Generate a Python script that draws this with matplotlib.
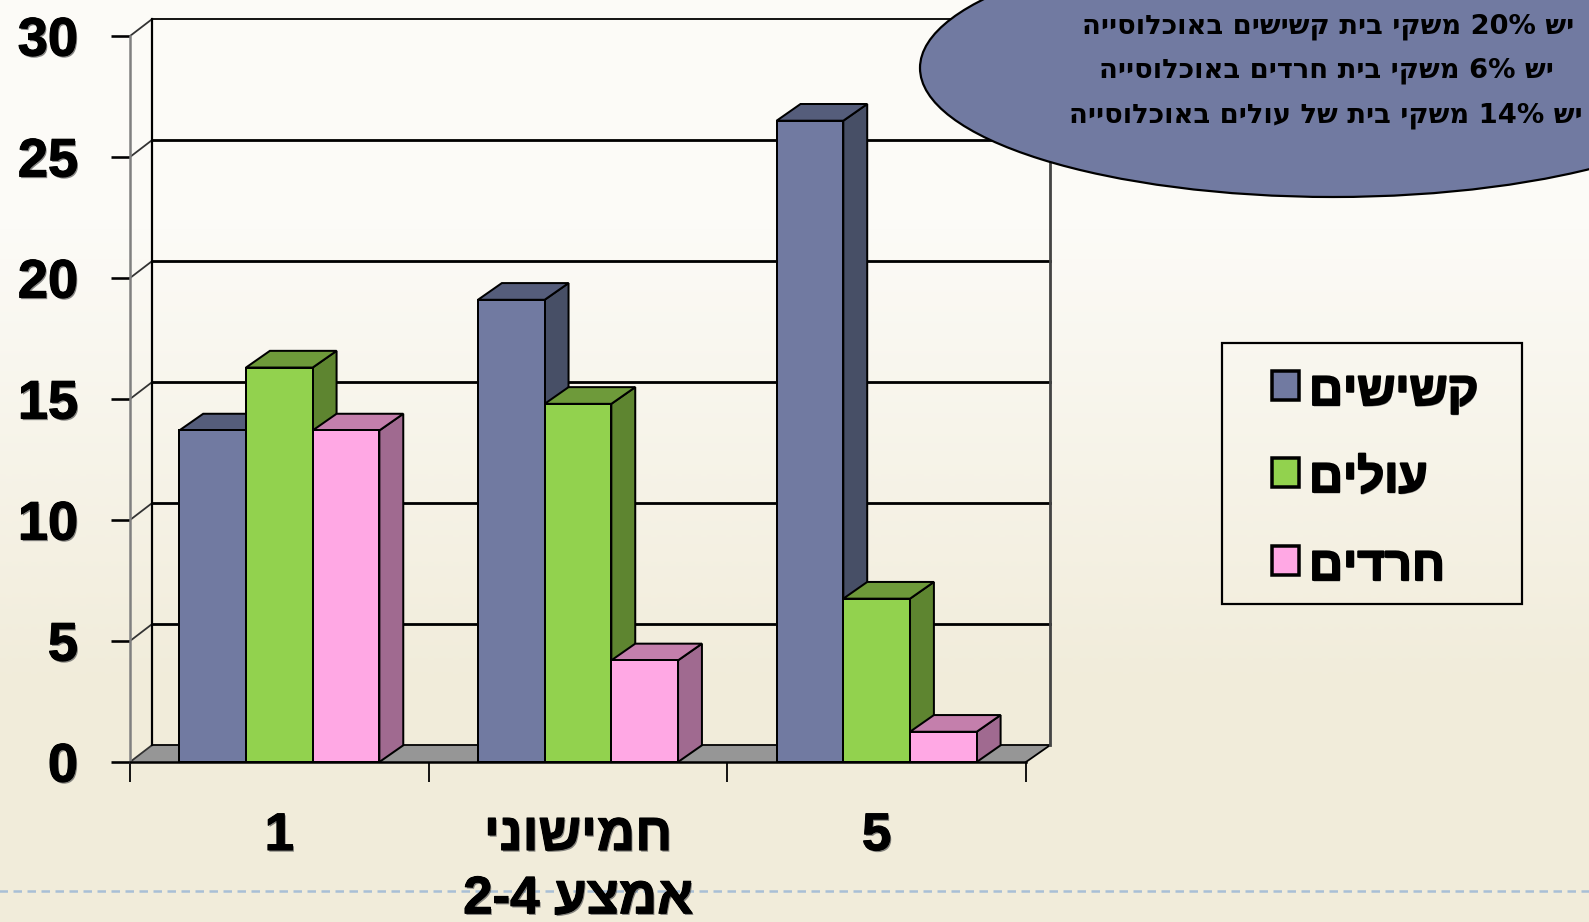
import re

import matplotlib
matplotlib.use("Agg")
import matplotlib.patheffects as pe
import matplotlib.pyplot as plt
import numpy as np
from matplotlib.patches import Ellipse, Rectangle

categories = ["1", "חמישוני\nאמצע 2-4", "5"]
series_names = ["קשישים", "עולים", "חרדים"]
elderly = [13.7, 19.1, 26.5]
immigrants = [16.3, 14.8, 6.75]
haredim = [13.7, 4.2, 1.25]
y_ticks = [0, 5, 10, 15, 20, 25, 30]
note_lines = [
    "יש 20% משקי בית קשישים באוכלוסייה",
    "יש 6% משקי בית חרדים באוכלוסייה",
    "יש 14% משקי בית של עולים באוכלוסייה",
]

front_colors = ["#717AA1", "#92D24E", "#FFA8E4"]
top_colors = ["#555D7B", "#6E9A3A", "#C47FAC"]
side_colors = ["#474F66", "#5E8530", "#A06A90"]

FIG_W, FIG_H = 1589, 922
BAR_W = 0.2233
DX = 0.08      # depth of the 3d box, in x data units
DX_LEFT = 0.073  # the left wall looks a little shallower than the bars
DY = 0.69      # depth of the 3d box, in y data units


def visual(text):
    # matplotlib has no bidi, so put the Hebrew in drawing order by hand.
    lines = []
    for line in text.split("\n"):
        flipped = line[::-1]
        lines.append(re.sub(r"[0-9%\-]+", lambda m: m.group(0)[::-1], flipped))
    return "\n".join(lines)


def px(n):
    # Pixels to points.
    return n * 72 / 100


def text_effects(offset=(1.0, -1.2), stroke=0.8):
    return [pe.withSimplePatchShadow(offset=offset, shadow_rgbFace="#555555",
                                     alpha=0.7),
            pe.Stroke(linewidth=stroke, foreground="black"),
            pe.Normal()]


fig = plt.figure(figsize=(FIG_W / 100, FIG_H / 100), dpi=100)

# Page background and the dashed footer rule.
bg = fig.add_axes([0, 0, 1, 1], zorder=0)
bg.imshow(np.array([[0.0], [1.0]]), aspect="auto", extent=(0, FIG_W, FIG_H, 0),
          cmap=matplotlib.colors.LinearSegmentedColormap.from_list(
              "page", ["#FCFBF7", "#F1ECDA"]), interpolation="bilinear")
bg.plot([-4.5, FIG_W], [890.5, 890.5], color="#A9BFD6", lw=px(2.5),
        dashes=(3.4, 2.2))
bg.set_xlim(0, FIG_W)
bg.set_ylim(FIG_H, 0)
bg.set_axis_off()

# Chart axes sit on the front plane of the 3d box.
ax = fig.add_axes([130 / FIG_W, (FIG_H - 762) / FIG_H, 896 / FIG_W, 726 / FIG_H],
                  zorder=1)
ax.patch.set_alpha(0)
ax.set_xlim(0, 3)
ax.set_ylim(0, 30)

# Floor, walls and gridlines.
ax.fill([0, 3, 3 + DX, DX_LEFT], [0, 0, DY, DY], facecolor="#969696",
        edgecolor="none", zorder=1, clip_on=False)
for v in y_ticks:
    line_w = 1.8 if v in (0, 30) else 2.8
    ax.plot([DX_LEFT, 3 + DX], [v + DY, v + DY], color="black", lw=px(line_w),
            zorder=1.5, clip_on=False)
    ax.plot([0, DX_LEFT], [v, v + DY], color="#333333", lw=px(1.8), zorder=1.5,
            clip_on=False)
ax.plot([3, 3 + DX], [0, DY], color="black", lw=px(1.8), zorder=1.5, clip_on=False)
ax.plot([DX_LEFT, DX_LEFT], [DY, 30 + DY], color="black", lw=px(2.2), zorder=1.5,
        clip_on=False)
ax.plot([3 + DX, 3 + DX], [DY, 30 + DY], color="#444444", lw=px(2.8), zorder=1.5,
        clip_on=False)

# Bars: each series gets a front, a top and a side face.
group_values = [elderly, immigrants, haredim]
order = 2
for g in range(len(categories)):
    for s, values in enumerate(group_values):
        left = g + 0.5 + (s - 1.5) * BAR_W
        v = values[g]
        order += 0.1
        ax.fill([left + BAR_W, left + BAR_W + DX, left + BAR_W + DX, left + BAR_W],
                [0, DY, v + DY, v], facecolor=side_colors[s], edgecolor="black",
                lw=px(2), zorder=order, clip_on=False)
        ax.fill([left, left + BAR_W, left + BAR_W + DX, left + DX],
                [v, v, v + DY, v + DY], facecolor=top_colors[s], edgecolor="black",
                lw=px(2), zorder=order, clip_on=False)
        ax.bar(left, v, width=BAR_W, align="edge", color=front_colors[s],
               edgecolor="black", lw=px(2), zorder=order, clip_on=False)

# Axis lines, ticks and tick labels.
for side in ("top", "right"):
    ax.spines[side].set_visible(False)
ax.spines["left"].set_color("#808080")
ax.spines["left"].set_linewidth(px(2.5))
ax.spines["bottom"].set_linewidth(px(2.5))
ax.spines["bottom"].set_zorder(5)

ax.set_yticks(y_ticks)
ax.set_yticklabels([str(v) for v in y_ticks], fontfamily="Liberation Sans",
                   fontweight="bold", fontsize=39, path_effects=text_effects())
ax.tick_params(axis="y", length=px(19), width=px(2.6), pad=px(33))

ax.set_xticks([0, 1, 2, 3])
ax.set_xticklabels([])
ax.tick_params(axis="x", which="major", length=px(20), width=px(1.8))
ax.set_xticks([0.5, 1.5, 2.5], minor=True)
ax.set_xticklabels([visual(c) for c in categories], minor=True, va="top",
                   fontfamily="Liberation Sans", fontweight="bold", fontsize=38,
                   linespacing=1.34, path_effects=text_effects())
ax.tick_params(axis="x", which="minor", length=0, pad=px(49))

# Callout ellipse and legend box, placed in page pixels.
over = fig.add_axes([0, 0, 1, 1], zorder=2)
over.patch.set_alpha(0)
over.set_xlim(0, FIG_W)
over.set_ylim(FIG_H, 0)
over.set_axis_off()

over.add_patch(Ellipse((1333, 68), 826, 258, facecolor="#717AA1", edgecolor="black",
                       lw=px(2.2)))
for line, y, x in zip(note_lines, [27, 71, 116], [1328, 1326, 1326]):
    over.text(x, y, visual(line), ha="center", va="center", fontsize=19.7,
              fontweight="bold", fontfamily="DejaVu Sans", color="black")

over.add_patch(Rectangle((1222, 343), 300, 261, facecolor="none", edgecolor="black",
                         lw=px(2.2)))
for name, color, y in zip(series_names, front_colors, [371, 458, 546]):
    over.add_patch(Rectangle((1272, y), 27, 29, facecolor=color, edgecolor="black",
                             lw=px(3.5)))
    over.text(1309, y + 22, visual(name), ha="left", va="center", fontsize=34,
              fontweight="bold", fontfamily="Liberation Sans", color="black",
              path_effects=text_effects((0.6, -1.0), 1.4))

fig.savefig("out.png", dpi=100)
